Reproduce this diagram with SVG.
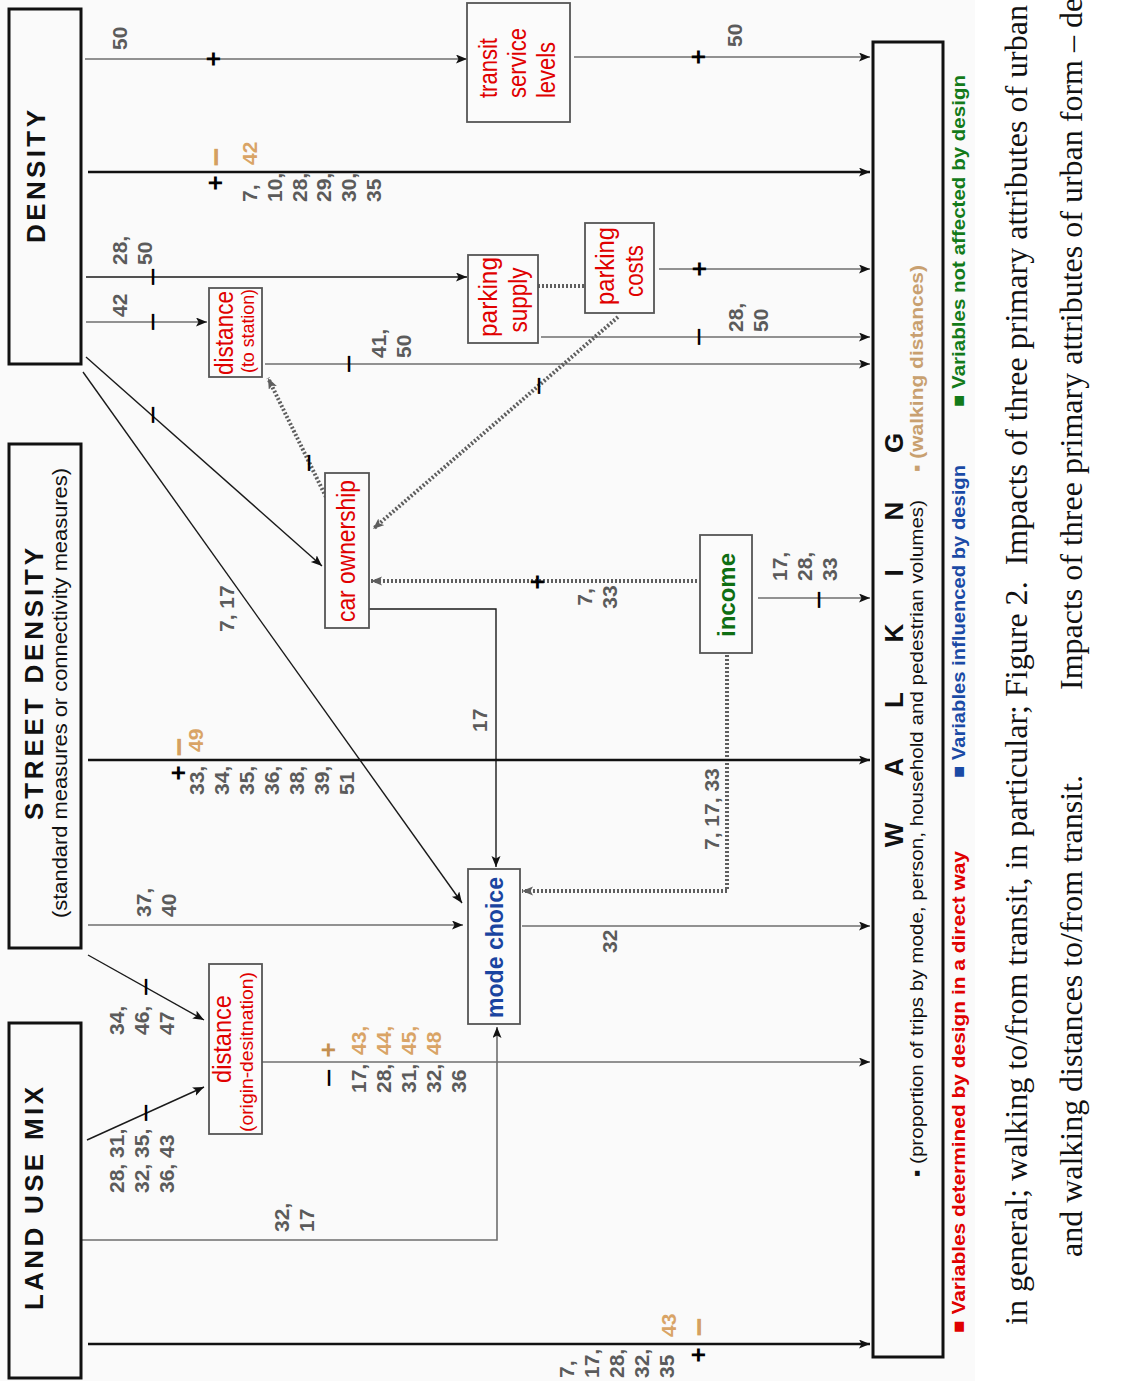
<svg xmlns="http://www.w3.org/2000/svg" width="1125" height="1381" viewBox="0 0 1125 1381">
<defs>
<marker id="ah" markerUnits="userSpaceOnUse" markerWidth="12" markerHeight="10" refX="11" refY="4.5" orient="auto"><path d="M0,0 L11,4.5 L0,9 L2.5,4.5 z" fill="#111"/></marker>
<marker id="ahg" markerUnits="userSpaceOnUse" markerWidth="12" markerHeight="10" refX="11" refY="4.5" orient="auto"><path d="M0,0 L11,4.5 L0,9 L2.5,4.5 z" fill="#5e5e5e"/></marker>
<style>
text{font-family:"Liberation Sans",Arial,"DejaVu Sans",sans-serif}
.hbox{fill:none;stroke:#111;stroke-width:3}
.box{fill:#fbfbfb;stroke:#555;stroke-width:1.8}
.c{fill:none;stroke:#6e6e6e;stroke-width:1.6}
.k{fill:none;stroke:#1a1a1a;stroke-width:1.4}
.kt{fill:none;stroke:#111;stroke-width:2.6}
.d{fill:none;stroke:#5e5e5e;stroke-width:4;stroke-dasharray:2 2}
.lbl{font-weight:bold;font-size:21px;fill:#5b5b5b}
.tan{fill:#d9a466}
.sg{text-anchor:middle;dominant-baseline:central}
.pl{font-size:26px;font-weight:bold;fill:#000}
.mi{font-size:33px;fill:#000}
.tmi{font-size:33px;font-weight:bold;fill:#d4a060}
.tpl{font-size:26px;font-weight:bold;fill:#c49050}
.hd{font-weight:bold;font-size:26px;fill:#111}
.nt{font-size:25px;fill:#e00000}
.ns{font-size:19px;fill:#e00000}
.cap{font-family:"Liberation Serif","Times New Roman",serif;font-size:32px;fill:#111}
</style>
</defs>
<rect x="0" y="0" width="1125" height="1381" fill="#ffffff"/>
<rect x="0" y="0" width="975" height="1381" fill="#fafafa"/>

<g id="connectors">
<line class="c" x1="85" y1="59" x2="467" y2="59" marker-end="url(#ah)"/>
<line class="c" x1="574" y1="57" x2="870" y2="57" marker-end="url(#ah)"/>
<line class="kt" x1="88" y1="172" x2="870" y2="172" marker-end="url(#ah)"/>
<line class="k" x1="86" y1="277" x2="467" y2="277" marker-end="url(#ah)"/>
<line class="c" x1="86" y1="322" x2="207" y2="322" marker-end="url(#ah)"/>
<line class="c" x1="265" y1="364" x2="870" y2="364" marker-end="url(#ah)"/>
<line class="c" x1="541" y1="337" x2="870" y2="337" marker-end="url(#ah)"/>
<line class="c" x1="659" y1="269" x2="870" y2="269" marker-end="url(#ah)"/>
<line class="d" x1="538" y1="286" x2="584" y2="286"/>
<line class="d" x1="618" y1="317" x2="373" y2="529" marker-end="url(#ahg)"/>
<line class="d" x1="326" y1="497" x2="268" y2="378" marker-end="url(#ahg)"/>
<line class="k" x1="86" y1="357" x2="322" y2="566" marker-end="url(#ah)"/>
<line class="k" x1="83" y1="372" x2="462" y2="903" marker-end="url(#ah)"/>
<path class="k" d="M369,609 H496 V867" marker-end="url(#ah)"/>
<line class="d" x1="697" y1="581" x2="371" y2="581" marker-end="url(#ahg)"/>
<path class="d" d="M727,655 V891 H522" marker-end="url(#ahg)"/>
<line class="c" x1="758" y1="598" x2="870" y2="598" marker-end="url(#ah)"/>
<line class="kt" x1="88" y1="760" x2="870" y2="760" marker-end="url(#ah)"/>
<line class="c" x1="88" y1="925" x2="463" y2="925" marker-end="url(#ah)"/>
<line class="c" x1="522" y1="926" x2="870" y2="926" marker-end="url(#ah)"/>
<line class="k" x1="88" y1="955" x2="204" y2="1020" marker-end="url(#ah)"/>
<line class="k" x1="87" y1="1140" x2="204" y2="1087" marker-end="url(#ah)"/>
<line class="c" x1="262" y1="1062" x2="870" y2="1062" marker-end="url(#ah)"/>
<path class="c" d="M81,1240 H497 V1027" marker-end="url(#ah)"/>
<line class="kt" x1="88" y1="1344" x2="870" y2="1344" marker-end="url(#ah)"/>

<!-- signs -->
<text class="sg pl" transform="translate(213,59) rotate(-90)">+</text>
<text class="sg pl" transform="translate(698,57) rotate(-90)">+</text>
<text class="sg pl" transform="translate(215,183) rotate(-90)">+</text>
<text class="sg pl" transform="translate(699,269) rotate(-90)">+</text>
<text class="sg pl" transform="translate(537,582) rotate(-90)">+</text>
<text class="sg pl" transform="translate(178,773) rotate(-90)">+</text>
<text class="sg pl" transform="translate(698,1355) rotate(-90)">+</text>
<text class="sg tpl" transform="translate(328,1050) rotate(-90)">+</text>
<text class="sg mi" transform="translate(152,277) rotate(-90)">−</text>
<text class="sg mi" transform="translate(152,322) rotate(-90)">−</text>
<text class="sg mi" transform="translate(348,364) rotate(-90)">−</text>
<text class="sg mi" transform="translate(698,337) rotate(-90)">−</text>
<text class="sg mi" transform="translate(152,415) rotate(-90)">−</text>
<text class="sg mi" transform="translate(308,463) rotate(-90)">−</text>
<text class="sg mi" transform="translate(538,386) rotate(-90)">−</text>
<text class="sg mi" transform="translate(818,600) rotate(-90)">−</text>
<text class="sg mi" transform="translate(145,987) rotate(-90)">−</text>
<text class="sg mi" transform="translate(145,1113) rotate(-90)">−</text>
<text class="sg mi" transform="translate(328,1078) rotate(-90)">−</text>
<text class="sg tmi" transform="translate(215,157) rotate(-90)">−</text>
<text class="sg tmi" transform="translate(178,747) rotate(-90)">−</text>
<text class="sg tmi" transform="translate(698,1327) rotate(-90)">−</text>

<!-- labels -->
<text class="lbl" transform="translate(127,50) rotate(-90)">50</text>
<text class="lbl" transform="translate(742,47) rotate(-90)">50</text>
<text class="lbl tan" transform="translate(257,165) rotate(-90)">42</text>
<text class="lbl" transform="translate(257,202) rotate(-90)"><tspan x="0" y="0">7,</tspan><tspan x="0" dy="24.8">10,</tspan><tspan x="0" dy="24.8">28,</tspan><tspan x="0" dy="24.8">29,</tspan><tspan x="0" dy="24.8">30,</tspan><tspan x="0" dy="24.8">35</tspan></text>
<text class="lbl" transform="translate(127,265) rotate(-90)"><tspan x="0" y="0">28,</tspan><tspan x="0" dy="25">50</tspan></text>
<text class="lbl" transform="translate(127,317) rotate(-90)">42</text>
<text class="lbl" transform="translate(386,358) rotate(-90)"><tspan x="0" y="0">41,</tspan><tspan x="0" dy="25">50</tspan></text>
<text class="lbl" transform="translate(743,332) rotate(-90)"><tspan x="0" y="0">28,</tspan><tspan x="0" dy="25">50</tspan></text>
<text class="lbl" transform="translate(234,632) rotate(-90)">7, 17</text>
<text class="lbl" transform="translate(487,732) rotate(-90)">17</text>
<text class="lbl" text-anchor="middle" transform="translate(592,597) rotate(-90)"><tspan x="0" y="0">7,</tspan><tspan x="0" dy="25">33</tspan></text>
<text class="lbl" transform="translate(719,850) rotate(-90)">7, 17, 33</text>
<text class="lbl" transform="translate(787,581) rotate(-90)"><tspan x="0" y="0">17,</tspan><tspan x="0" dy="25">28,</tspan><tspan x="0" dy="25">33</tspan></text>
<text class="lbl tan" transform="translate(203,752) rotate(-90)">49</text>
<text class="lbl" transform="translate(204,795) rotate(-90)"><tspan x="0" y="0">33,</tspan><tspan x="0" dy="25">34,</tspan><tspan x="0" dy="25">35,</tspan><tspan x="0" dy="25">36,</tspan><tspan x="0" dy="25">38,</tspan><tspan x="0" dy="25">39,</tspan><tspan x="0" dy="25">51</tspan></text>
<text class="lbl" transform="translate(151,917) rotate(-90)"><tspan x="0" y="0">37,</tspan><tspan x="0" dy="25">40</tspan></text>
<text class="lbl" transform="translate(617,953) rotate(-90)">32</text>
<text class="lbl" transform="translate(124,1035) rotate(-90)"><tspan x="0" y="0">34,</tspan><tspan x="0" dy="25">46,</tspan><tspan x="0" dy="25">47</tspan></text>
<text class="lbl" transform="translate(124,1193) rotate(-90)"><tspan x="0" y="0">28, 31,</tspan><tspan x="0" dy="25">32, 35,</tspan><tspan x="0" dy="25">36, 43</tspan></text>
<text class="lbl tan" transform="translate(366,1055) rotate(-90)"><tspan x="0" y="0">43,</tspan><tspan x="0" dy="25">44,</tspan><tspan x="0" dy="25">45,</tspan><tspan x="0" dy="25">48</tspan></text>
<text class="lbl" transform="translate(366,1093) rotate(-90)"><tspan x="0" y="0">17,</tspan><tspan x="0" dy="25">28,</tspan><tspan x="0" dy="25">31,</tspan><tspan x="0" dy="25">32,</tspan><tspan x="0" dy="25">36</tspan></text>
<text class="lbl" transform="translate(289,1232) rotate(-90)"><tspan x="0" y="0">32,</tspan><tspan x="0" dy="25">17</tspan></text>
<text class="lbl tan" transform="translate(676,1337) rotate(-90)">43</text>
<text class="lbl" transform="translate(574,1378) rotate(-90)"><tspan x="0" y="0">7,</tspan><tspan x="0" dy="25">17,</tspan><tspan x="0" dy="25">28,</tspan><tspan x="0" dy="25">32,</tspan><tspan x="0" dy="25">35</tspan></text>
</g>

<g id="density">
<rect class="hbox" x="9" y="9" width="72" height="355"/>
<text class="hd" text-anchor="middle" textLength="133" lengthAdjust="spacing" transform="translate(45,176.5) rotate(-90)">DENSITY</text>
</g>
<g id="street-density">
<rect class="hbox" x="9" y="444" width="72" height="504"/>
<text class="hd" text-anchor="middle" textLength="272" lengthAdjust="spacing" transform="translate(43,684) rotate(-90)">STREET DENSITY</text>
<text text-anchor="middle" font-size="21" fill="#111" textLength="450" lengthAdjust="spacingAndGlyphs" transform="translate(67,693) rotate(-90)">(standard measures or connectivity measures)</text>
</g>
<g id="land-use-mix">
<rect class="hbox" x="9" y="1023" width="72" height="355"/>
<text class="hd" text-anchor="middle" textLength="223" lengthAdjust="spacing" transform="translate(43,1198.5) rotate(-90)">LAND USE MIX</text>
</g>
<g id="transit-service-levels">
<rect class="box" x="467" y="3" width="103" height="119"/>
<text class="nt" transform="translate(497,98) rotate(-90)" textLength="60" lengthAdjust="spacingAndGlyphs">transit</text>
<text class="nt" transform="translate(526,98) rotate(-90)" textLength="70" lengthAdjust="spacingAndGlyphs">service</text>
<text class="nt" transform="translate(555,98) rotate(-90)" textLength="56" lengthAdjust="spacingAndGlyphs">levels</text>
</g>
<g id="distance-to-station">
<rect class="box" x="209" y="288" width="53" height="89"/>
<text class="nt" text-anchor="middle" transform="translate(233,333) rotate(-90)" textLength="84" lengthAdjust="spacingAndGlyphs">distance</text>
<text class="ns" text-anchor="middle" transform="translate(254,331) rotate(-90)" textLength="84" lengthAdjust="spacingAndGlyphs">(to station)</text>
</g>
<g id="parking-supply">
<rect class="box" x="468" y="255" width="70" height="88"/>
<text class="nt" text-anchor="middle" transform="translate(497,297) rotate(-90)" textLength="80" lengthAdjust="spacingAndGlyphs">parking</text>
<text class="nt" text-anchor="middle" transform="translate(527,300) rotate(-90)" textLength="65" lengthAdjust="spacingAndGlyphs">supply</text>
</g>
<g id="parking-costs">
<rect class="box" x="585" y="223" width="69" height="90"/>
<text class="nt" text-anchor="middle" transform="translate(614,266) rotate(-90)" textLength="78" lengthAdjust="spacingAndGlyphs">parking</text>
<text class="nt" text-anchor="middle" transform="translate(643,271) rotate(-90)" textLength="52" lengthAdjust="spacingAndGlyphs">costs</text>
</g>
<g id="car-ownership">
<rect class="box" x="325" y="473" width="44" height="155"/>
<text class="nt" text-anchor="middle" transform="translate(355,551) rotate(-90)" textLength="142" lengthAdjust="spacingAndGlyphs">car ownership</text>
</g>
<g id="income">
<rect class="box" x="700" y="535" width="52" height="118"/>
<text text-anchor="middle" font-size="24" font-weight="bold" fill="#0e6e12" transform="translate(735,595) rotate(-90)" textLength="84" lengthAdjust="spacingAndGlyphs">income</text>
</g>
<g id="mode-choice">
<rect class="box" x="468" y="869" width="52" height="155"/>
<text text-anchor="middle" font-size="24" font-weight="bold" fill="#1a44a0" transform="translate(503,947.5) rotate(-90)" textLength="141" lengthAdjust="spacingAndGlyphs">mode choice</text>
</g>
<g id="distance-origin-destination">
<rect class="box" x="209" y="964" width="53" height="170"/>
<text class="nt" text-anchor="middle" transform="translate(231,1039) rotate(-90)" textLength="88" lengthAdjust="spacingAndGlyphs">distance</text>
<text class="ns" text-anchor="middle" transform="translate(253,1052) rotate(-90)" textLength="160" lengthAdjust="spacingAndGlyphs">(origin-desitnation)</text>
</g>
<g id="walking">
<rect class="hbox" x="873" y="42" width="70" height="1315"/>
<text class="hd" font-size="25" text-anchor="middle" transform="translate(903,0) rotate(-90)" x="-835 -767 -700 -633 -573 -511 -443">WALKING</text>
<text font-size="19" fill="#111" textLength="677" lengthAdjust="spacingAndGlyphs" transform="translate(923,1177) rotate(-90)">▪ (proportion of trips by mode, person, household and pedestrian volumes)</text>
<text font-size="19" font-weight="bold" fill="#c8a070" textLength="207" lengthAdjust="spacingAndGlyphs" transform="translate(923,472) rotate(-90)">▪ (walking distances)</text>
</g>
<g id="legend">
<text font-size="19" font-weight="bold" fill="#e00000" textLength="482" lengthAdjust="spacingAndGlyphs" transform="translate(965,1333) rotate(-90)">■ Variables determined by design in a direct way</text>
<text font-size="19" font-weight="bold" fill="#1a4aa5" textLength="313" lengthAdjust="spacingAndGlyphs" transform="translate(965,778) rotate(-90)">■ Variables influenced by design</text>
<text font-size="19" font-weight="bold" fill="#137a1a" textLength="332" lengthAdjust="spacingAndGlyphs" transform="translate(965,407) rotate(-90)">■ Variables not affected by design</text>
</g>
<g id="caption">
<text class="cap" textLength="1320" lengthAdjust="spacing" transform="translate(1027,1325) rotate(-90)">in general; walking to/from transit, in particular; Figure 2.&#160; Impacts of three primary attributes of urban</text>
<text class="cap" textLength="482" lengthAdjust="spacing" transform="translate(1082,1257) rotate(-90)">and walking distances to/from transit.</text>
<text class="cap" transform="translate(1082,690) rotate(-90)">Impacts of three primary attributes of urban form – de</text>
</g>
</svg>
